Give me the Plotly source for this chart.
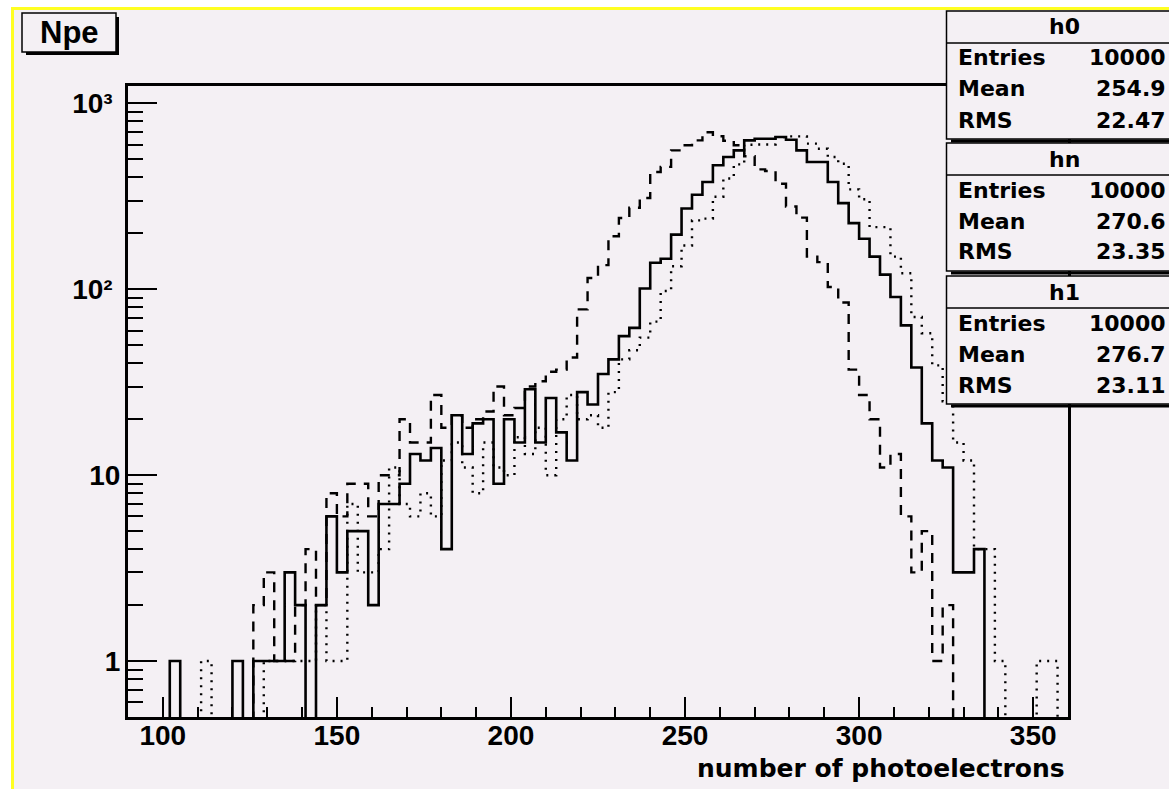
import numpy as np
import plotly.graph_objects as go

# ---------------- data ----------------
x_low = 90          # low edge of first bin
bin_width = 3
n_bins = 90

# h0 (dashed)
h0_counts = [0, 0, 0, 0, 0, 0, 0, 0, 0, 0,
             0, 0, 2, 3, 1, 1, 2, 4, 2, 8,
             6, 9, 9, 6, 10, 10, 20, 15, 15, 27,
             18, 21, 18, 20, 22, 30, 21, 23, 30, 32,
             36, 37, 43, 78, 115, 135, 193, 242, 275, 310,
             428, 456, 559, 596, 633, 700, 666, 630, 596, 520,
             442, 433, 370, 279, 243, 150, 140, 103, 85, 37,
             27, 20, 11, 13, 6, 3, 5, 1, 2, 0,
             0, 0, 0, 0, 0, 0, 0, 0, 0, 0]
# hn (solid)
hn_counts = [0, 0, 0, 0, 1, 0, 0, 0, 0, 0,
             1, 0, 1, 1, 1, 3, 2, 0, 2, 6,
             3, 5, 5, 2, 7, 7, 9, 13, 12, 14,
             4, 21, 13, 19, 20, 9, 20, 15, 29, 15,
             26, 17, 12, 28, 24, 35, 42, 56, 62, 101,
             139, 146, 197, 272, 323, 378, 465, 515, 559, 633,
             646, 646, 660, 638, 559, 484, 484, 378, 291, 227,
             187, 150, 120, 91, 64, 38, 19, 12, 11, 3,
             3, 4, 0, 0, 0, 0, 0, 0, 0, 0]
# h1 (dotted)
h1_counts = [0, 0, 0, 0, 0, 0, 0, 1, 0, 0,
             0, 0, 0, 1, 1, 1, 1, 1, 2, 1,
             1, 7, 3, 3, 4, 11, 7, 6, 8, 6,
             12, 15, 11, 8, 15, 11, 10, 16, 13, 18,
             10, 20, 27, 20, 21, 18, 28, 42, 47, 55,
             67, 98, 133, 172, 235, 240, 315, 395, 470, 600,
             602, 602, 659, 665, 665, 608, 571, 515, 474, 345,
             305, 216, 216, 150, 122, 71, 58, 39, 25, 15,
             12, 4, 4, 1, 0, 0, 0, 1, 1, 0]

x_major = [100, 150, 200, 250, 300, 350]
x_minor = [v for v in range(90, 361, 10) if v not in x_major]
y_major = [1, 10, 100, 1000]
y_major_text = ["1", "10", "10²\u00a0", "10³\u00a0"]
y_minor = [0.6, 0.7, 0.8, 0.9, 2, 3, 4, 5, 6, 7, 8, 9,
           20, 30, 40, 50, 60, 70, 80, 90,
           200, 300, 400, 500, 600, 700, 800, 900]

stat_names = ["h0", "hn", "h1"]
stat_entries = ["10000", "10000", "10000"]
stat_mean = ["254.9", "270.6", "276.7"]
stat_rms = ["22.47", "23.35", "23.11"]

title_text = "Npe"
x_title = "number of photoelectrons"

# ---------------- layout geometry (pixels) ----------------
W, H = 1169, 789
L, R, T, B = 128, 1068, 86, 717
BG = "#F4F0F4"


def fx(px):
    return (px - L) / (R - L)


def fy(py):
    return (B - py) / (B - T)


edges = x_low + bin_width * np.arange(n_bins + 1)
floor_val = 0.3  # empty bins drawn below the visible range (clipped), as ROOT does on log scale


def step_xy(counts):
    c = np.array(counts, dtype=float)
    c = np.where(c <= 0, floor_val, c)
    y = np.append(c, c[-1])
    return edges, y


fig = go.Figure()
styles = [(h0_counts, "10px,8px", 2.4, "h0"),
          (hn_counts, "solid", 2.6, "hn"),
          (h1_counts, "2px,6px", 2.4, "h1")]
for counts, dash, w, name in styles:
    xs, ys = step_xy(counts)
    fig.add_trace(go.Scatter(x=xs, y=ys, mode="lines", line_shape="hv",
                             line=dict(color="black", width=w, dash=dash),
                             name=name, showlegend=False, hoverinfo="skip"))

tick_font = dict(family="Liberation Sans", size=28, color="black", weight="bold")

fig.update_layout(
    width=W, height=H,
    margin=dict(l=L, r=W - R, t=T, b=H - B, pad=0),
    paper_bgcolor=BG, plot_bgcolor=BG,
    showlegend=False,
    xaxis=dict(range=[x_low, x_low + bin_width * n_bins],
               tickmode="array", tickvals=x_major, ticktext=[str(v) for v in x_major],
               ticks="inside", ticklen=20, tickwidth=2, tickcolor="black",
               minor=dict(tickmode="array", tickvals=x_minor, ticks="inside",
                          ticklen=10, tickwidth=2, tickcolor="black"),
               showline=True, linewidth=3, linecolor="black", mirror=True,
               showgrid=False, zeroline=False, tickfont=tick_font,
               ticklabelstandoff=-9),
    yaxis=dict(type="log", range=[np.log10(0.5), 3.094],
               tickmode="array", tickvals=y_major, ticktext=y_major_text,
               ticks="inside", ticklen=29, tickwidth=2, tickcolor="black",
               minor=dict(tickmode="array", tickvals=y_minor, ticks="inside",
                          ticklen=15, tickwidth=2, tickcolor="black"),
               showline=True, linewidth=3, linecolor="black", mirror=True,
               showgrid=False, zeroline=False, tickfont=tick_font,
               ticklabelstandoff=-1),
)

shapes = []
# white strips and yellow border of the canvas
shapes.append(dict(type="rect", xref="paper", yref="paper", x0=fx(0), x1=fx(W), y0=fy(0), y1=fy(7),
                   fillcolor="white", line=dict(width=0)))
shapes.append(dict(type="rect", xref="paper", yref="paper", x0=fx(0), x1=fx(11), y0=fy(0), y1=fy(H),
                   fillcolor="white", line=dict(width=0)))
shapes.append(dict(type="line", xref="paper", yref="paper", x0=fx(11), x1=fx(W), y0=fy(8.5), y1=fy(8.5),
                   line=dict(color="#FFFF22", width=3)))
shapes.append(dict(type="line", xref="paper", yref="paper", x0=fx(12.5), x1=fx(12.5), y0=fy(7), y1=fy(H),
                   line=dict(color="#FFFF22", width=3)))

# title box "Npe"
shapes.append(dict(type="rect", xref="paper", yref="paper", x0=fx(22), x1=fx(116), y0=fy(52), y1=fy(13),
                   fillcolor=BG, line=dict(color="black", width=1.5)))
shapes.append(dict(type="line", xref="paper", yref="paper", x0=fx(117.5), x1=fx(117.5), y0=fy(17), y1=fy(54),
                   line=dict(color="black", width=3)))
shapes.append(dict(type="line", xref="paper", yref="paper", x0=fx(26), x1=fx(119), y0=fy(53.5), y1=fy(53.5),
                   line=dict(color="black", width=3)))

annotations = [dict(text=title_text, xref="paper", yref="paper", x=fx(69), y=fy(33),
                    xanchor="center", yanchor="middle", showarrow=False,
                    font=dict(family="Liberation Sans", size=31, color="black", weight="bold"))]

# stats boxes
box_tops = [11, 143, 276]
box_h = 128
for i, name in enumerate(stat_names):
    top = box_tops[i]
    bot = top + box_h
    hdr = top + 32
    shapes.append(dict(type="rect", xref="paper", yref="paper", x0=fx(946.5), x1=fx(1200), y0=fy(bot), y1=fy(top),
                       fillcolor=BG, line=dict(color="black", width=1.5)))
    shapes.append(dict(type="line", xref="paper", yref="paper", x0=fx(946.5), x1=fx(1200), y0=fy(hdr), y1=fy(hdr),
                       line=dict(color="black", width=1.5)))
    shapes.append(dict(type="line", xref="paper", yref="paper", x0=fx(951), x1=fx(1200), y0=fy(bot + 2), y1=fy(bot + 2),
                       line=dict(color="black", width=3)))
    sfont = dict(family="DejaVu Sans", size=22, color="black", weight="bold")
    annotations.append(dict(text=name, xref="paper", yref="paper", x=fx(1064), y=fy(top + 16),
                            xanchor="center", yanchor="middle", showarrow=False, font=sfont))
    rows = [("Entries", stat_entries[i]), ("Mean", stat_mean[i]), ("RMS", stat_rms[i])]
    for j, (lab, val) in enumerate(rows):
        yy = top + 47 + 31 * j
        annotations.append(dict(text=lab, xref="paper", yref="paper", x=fx(956), y=fy(yy),
                                xanchor="left", yanchor="middle", showarrow=False, font=sfont))
        annotations.append(dict(text=val, xref="paper", yref="paper", x=fx(1168), y=fy(yy),
                                xanchor="right", yanchor="middle", showarrow=False, font=sfont))

annotations.append(dict(text=x_title, xref="paper", yref="paper", x=fx(1067), y=fy(768),
                        xanchor="right", yanchor="middle", showarrow=False,
                        font=dict(family="DejaVu Sans", size=25, color="black", weight="bold")))

fig.update_layout(shapes=shapes, annotations=annotations)
fig.write_html("out.html")
